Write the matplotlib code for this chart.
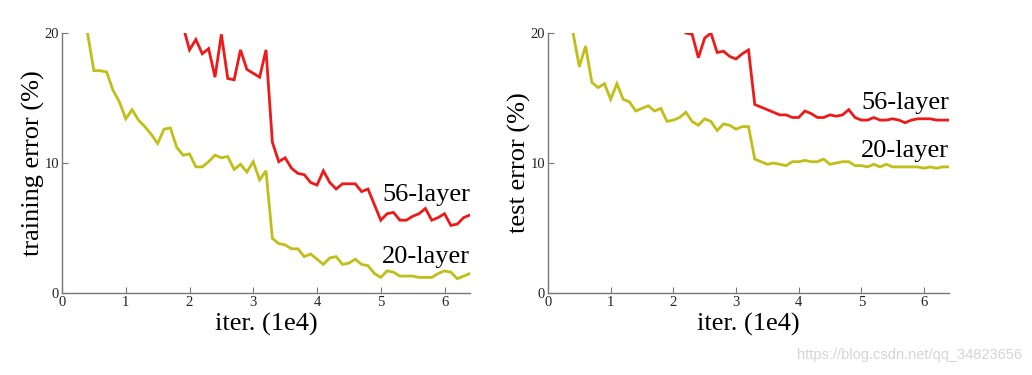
import matplotlib
matplotlib.use("Agg")
import matplotlib.pyplot as plt
import numpy as np

# ---- data (iterations in units of 1e4) ----
train20_x = [0.4, 0.5, 0.6, 0.7, 0.8, 0.9, 1.0, 1.1, 1.2, 1.3, 1.4, 1.5, 1.6, 1.7, 1.8, 1.9,
             2.0, 2.1, 2.2, 2.3, 2.4, 2.5, 2.6, 2.7, 2.8, 2.9, 3.0, 3.1, 3.2, 3.3, 3.4, 3.5,
             3.6, 3.7, 3.8, 3.9, 4.0, 4.1, 4.2, 4.3, 4.4, 4.5, 4.6, 4.7, 4.8, 4.9, 5.0, 5.1,
             5.2, 5.3, 5.4, 5.5, 5.6, 5.7, 5.8, 5.9, 6.0, 6.1, 6.2, 6.3, 6.4]
train20_y = [20.0, 17.1, 17.1, 17.0, 15.6, 14.7, 13.4, 14.1, 13.3, 12.8, 12.2, 11.5, 12.6, 12.7, 11.2, 10.6,
             10.7, 9.7, 9.7, 10.1, 10.6, 10.4, 10.5, 9.5, 9.9, 9.3, 10.1, 8.7, 9.4, 4.2, 3.8, 3.7,
             3.4, 3.4, 2.8, 3.0, 2.6, 2.2, 2.7, 2.8, 2.2, 2.3, 2.6, 2.2, 2.1, 1.5, 1.2, 1.7,
             1.6, 1.3, 1.3, 1.3, 1.2, 1.2, 1.2, 1.5, 1.7, 1.6, 1.1, 1.3, 1.5]

train56_x = [1.9, 2.0, 2.1, 2.2, 2.3, 2.4, 2.5, 2.6, 2.7, 2.8, 2.9, 3.0, 3.1, 3.2, 3.3, 3.4,
             3.5, 3.6, 3.7, 3.8, 3.9, 4.0, 4.1, 4.2, 4.3, 4.4, 4.5, 4.6, 4.7, 4.8, 4.9, 5.0,
             5.1, 5.2, 5.3, 5.4, 5.5, 5.6, 5.7, 5.8, 5.9, 6.0, 6.1, 6.2, 6.3, 6.4]
train56_y = [20.5, 18.7, 19.5, 18.4, 18.8, 16.6, 19.9, 16.5, 16.4, 18.7, 17.2, 16.9, 16.6, 18.7, 11.6, 10.1,
             10.4, 9.6, 9.2, 9.1, 8.5, 8.3, 9.4, 8.5, 8.0, 8.4, 8.4, 8.4, 7.8, 8.0, 6.8, 5.6,
             6.1, 6.2, 5.6, 5.6, 5.9, 6.1, 6.5, 5.6, 5.8, 6.1, 5.2, 5.3, 5.8, 6.0]

test20_x = train20_x
test20_y = [20.0, 17.4, 19.0, 16.2, 15.8, 16.1, 14.9, 16.1, 14.9, 14.7, 14.0, 14.2, 14.4, 14.0, 14.2, 13.2,
            13.3, 13.5, 13.9, 13.2, 12.9, 13.4, 13.2, 12.5, 13.0, 12.9, 12.6, 12.8, 12.8, 10.3, 10.1, 9.9,
            10.0, 9.9, 9.8, 10.1, 10.1, 10.2, 10.1, 10.1, 10.3, 9.9, 10.0, 10.1, 10.1, 9.8, 9.8, 9.7,
            9.9, 9.7, 9.9, 9.7, 9.7, 9.7, 9.7, 9.7, 9.6, 9.7, 9.6, 9.7, 9.7]

test56_x = [2.2, 2.3, 2.4, 2.5, 2.6, 2.7, 2.8, 2.9, 3.0, 3.1, 3.2, 3.3, 3.4, 3.5, 3.6, 3.7,
            3.8, 3.9, 4.0, 4.1, 4.2, 4.3, 4.4, 4.5, 4.6, 4.7, 4.8, 4.9, 5.0, 5.1, 5.2, 5.3,
            5.4, 5.5, 5.6, 5.7, 5.8, 5.9, 6.0, 6.1, 6.2, 6.3, 6.4]
test56_y = [20.0, 19.9, 18.1, 19.6, 20.0, 18.5, 18.6, 18.2, 18.0, 18.4, 18.7, 14.5, 14.3, 14.1, 13.9, 13.7,
            13.7, 13.5, 13.5, 14.0, 13.8, 13.5, 13.5, 13.7, 13.6, 13.7, 14.1, 13.5, 13.3, 13.3, 13.5, 13.3,
            13.3, 13.4, 13.3, 13.1, 13.3, 13.4, 13.4, 13.4, 13.3, 13.3, 13.3]

x_ticks = [0, 1, 2, 3, 4, 5, 6]
y_ticks = [0, 10, 20]
xlabel = "iter. (1e4)"
ylabels = ["training error (%)", "test error (%)"]
series_names = ["56-layer", "20-layer"]
train_label_y = [7.55, 2.8]
test_label_y = [14.6, 10.9]

RED = "#ee1a1a"
YEL = "#bfbf17"
SERIF = ["Liberation Serif", "DejaVu Serif"]

fig = plt.figure(figsize=(10.32, 3.75), dpi=100)
ax1 = fig.add_axes([62 / 1032, 82 / 375, 408 / 1032, 260 / 375])
ax2 = fig.add_axes([548 / 1032, 82 / 375, 401 / 1032, 260 / 375])


def style(ax, ylabel):
    ax.set_xlim(0, 6.4)
    ax.set_ylim(0, 20)
    for s in ["top", "right"]:
        ax.spines[s].set_visible(False)
    for s in ["left", "bottom"]:
        ax.spines[s].set_color("#777777")
        ax.spines[s].set_linewidth(1.0)
    ax.set_xticks(x_ticks)
    ax.set_yticks(y_ticks)
    ax.tick_params(direction="in", length=4, width=0.8, color="#777777",
                   labelsize=10.5, labelcolor="#222222", pad=2)
    for lab in ax.get_xticklabels() + ax.get_yticklabels():
        lab.set_family(SERIF)
    ax.set_xlabel(xlabel, fontsize=19, family=SERIF, labelpad=3)
    ax.set_ylabel(ylabel, fontsize=19, family=SERIF, labelpad=0)


ax1.plot(train20_x, train20_y, color=YEL, lw=2.0, solid_joinstyle="miter")
ax1.plot(train56_x, train56_y, color=RED, lw=2.0, solid_joinstyle="miter")
style(ax1, ylabels[0])
for name, yv in zip(series_names, train_label_y):
    ax1.text(6.4, yv, name, ha="right", va="center", fontsize=19, family=SERIF)

ax2.plot(test20_x, test20_y, color=YEL, lw=2.0, solid_joinstyle="miter")
ax2.plot(test56_x, test56_y, color=RED, lw=2.0, solid_joinstyle="miter")
style(ax2, ylabels[1])
for name, yv in zip(series_names, test_label_y):
    ax2.text(6.4, yv, name, ha="right", va="center", fontsize=19, family=SERIF)

fig.text(1022 / 1032, 1 - 355 / 375, "https://blog.csdn.net/qq_34823656",
         ha="right", va="center", fontsize=10.5, color="#d5d5d5",
         family=["Liberation Sans", "DejaVu Sans"])

fig.savefig("out.png", dpi=100)
